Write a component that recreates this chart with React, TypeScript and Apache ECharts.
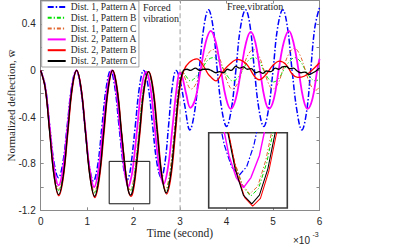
import React, { useEffect, useRef } from 'react';
import * as echarts from 'echarts';

const seriesNames = [
  'Dist. 1, Pattern A',
  'Dist. 1, Pattern B',
  'Dist. 1, Pattern C',
  'Dist. 2, Pattern A',
  'Dist. 2, Pattern B',
  'Dist. 2, Pattern C',
];

// time (x10^-3 s), normalized deflection
const d1A: number[][] = [
  [0, 0], [0.096, -0.13], [0.19, -0.46], [0.287, -0.79], [0.383, -0.92], [0.478, -0.79], [0.574, -0.46], [0.67, -0.13], [0.765, 0],
  [0.857, -0.14], [0.95, -0.47], [1.043, -0.81], [1.135, -0.95], [1.228, -0.81], [1.32, -0.47], [1.413, -0.14], [1.505, 0],
  [1.594, -0.14], [1.683, -0.47], [1.772, -0.8], [1.815, -0.9], [1.86, -0.94], [1.905, -0.9], [1.948, -0.8], [2.037, -0.47], [2.126, -0.14], [2.215, 0],
  [2.31, -0.13], [2.405, -0.46], [2.5, -0.79], [2.595, -0.92], [2.675, -0.79], [2.755, -0.46], [2.835, -0.13], [2.915, 0],
  [2.99, -0.07], [3.1, -0.3], [3.21, -0.51], [3.31, -0.36], [3.41, 0.0], [3.51, 0.37], [3.61, 0.52], [3.71, 0.37], [3.8, 0.0],
  [3.9, -0.34], [4.0, -0.48], [4.1, -0.34], [4.2, 0.0], [4.3, 0.37], [4.41, 0.52], [4.51, 0.37], [4.6, 0.0],
  [4.7, -0.34], [4.8, -0.48], [4.9, -0.34], [5.0, 0.0], [5.1, 0.37], [5.21, 0.52], [5.31, 0.37], [5.41, 0.0],
  [5.52, -0.36], [5.62, -0.51], [5.72, -0.36], [5.81, 0.0], [5.9, 0.37], [6.0, 0.54],
];

const d1B: number[][] = [
  [0, 0], [0.097, -0.15], [0.194, -0.52], [0.291, -0.88], [0.388, -1.03], [0.484, -0.88], [0.58, -0.52], [0.676, -0.15], [0.772, 0],
  [0.868, -0.15], [0.965, -0.53], [1.061, -0.9], [1.158, -1.05], [1.254, -0.9], [1.35, -0.53], [1.447, -0.15], [1.543, 0],
  [1.64, -0.15], [1.736, -0.52], [1.832, -0.88], [1.88, -0.99], [1.928, -1.035], [1.975, -1.0], [2.024, -0.88], [2.12, -0.52], [2.215, -0.15], [2.31, -0.01],
  [2.405, -0.15], [2.5, -0.52], [2.595, -0.88], [2.69, -1.03], [2.785, -0.88], [2.88, -0.52], [2.97, -0.15], [3.05, -0.01],
  [3.13, -0.05], [3.22, -0.09], [3.35, -0.05], [3.48, 0.02], [3.6, 0.09], [3.72, 0.11], [3.83, 0.08], [3.95, 0.0],
  [4.04, -0.06], [4.13, -0.09], [4.25, -0.06], [4.37, 0.02], [4.48, 0.09], [4.6, 0.11], [4.7, 0.08], [4.8, 0.0],
  [4.9, -0.07], [5.0, -0.1], [5.12, -0.07], [5.24, 0.01], [5.36, 0.08], [5.47, 0.11], [5.58, 0.08], [5.7, 0.0],
  [5.8, -0.06], [5.92, -0.09], [6.0, -0.07],
];

const d1C: number[][] = [
  [0, 0], [0.097, -0.15], [0.194, -0.51], [0.291, -0.87], [0.388, -1.02], [0.484, -0.87], [0.58, -0.51], [0.676, -0.15], [0.772, 0],
  [0.868, -0.15], [0.965, -0.52], [1.061, -0.89], [1.157, -1.04], [1.253, -0.89], [1.35, -0.52], [1.446, -0.15], [1.542, 0],
  [1.638, -0.15], [1.734, -0.51], [1.83, -0.87], [1.878, -0.98], [1.922, -1.025], [1.97, -0.99], [2.018, -0.87], [2.114, -0.51], [2.21, -0.15], [2.305, -0.01],
  [2.4, -0.15], [2.495, -0.51], [2.59, -0.87], [2.685, -1.02], [2.78, -0.87], [2.875, -0.51], [2.965, -0.15], [3.045, -0.01],
  [3.13, -0.09], [3.24, -0.16], [3.36, -0.1], [3.48, 0.03], [3.6, 0.14], [3.71, 0.18], [3.82, 0.13], [3.93, 0.01],
  [4.03, -0.11], [4.12, -0.16], [4.24, -0.11], [4.36, 0.03], [4.47, 0.14], [4.58, 0.18], [4.69, 0.13], [4.8, 0.01],
  [4.9, -0.11], [4.99, -0.16], [5.11, -0.11], [5.23, 0.03], [5.35, 0.15], [5.46, 0.19], [5.57, 0.14], [5.69, 0.01],
  [5.8, -0.12], [5.92, -0.17], [6.0, -0.14],
];

const d2A: number[][] = [
  [0, 0], [0.096, -0.14], [0.193, -0.49], [0.289, -0.84], [0.385, -0.985], [0.481, -0.84], [0.577, -0.49], [0.674, -0.14], [0.77, 0],
  [0.865, -0.15], [0.96, -0.5], [1.055, -0.85], [1.15, -1.0], [1.245, -0.85], [1.34, -0.5], [1.435, -0.15], [1.53, 0],
  [1.62, -0.15], [1.71, -0.5], [1.8, -0.85], [1.843, -0.95], [1.886, -0.996], [1.93, -0.95], [1.98, -0.85], [2.075, -0.5], [2.17, -0.15], [2.265, -0.01],
  [2.36, -0.14], [2.455, -0.49], [2.55, -0.83], [2.645, -0.975], [2.74, -0.83], [2.835, -0.49], [2.93, -0.14], [2.995, -0.02],
  [3.05, -0.06], [3.13, -0.2], [3.22, -0.32], [3.33, -0.24], [3.44, 0.0], [3.55, 0.24], [3.66, 0.34], [3.77, 0.24], [3.88, 0.0],
  [3.99, -0.24], [4.09, -0.33], [4.2, -0.24], [4.31, 0.0], [4.42, 0.24], [4.52, 0.33], [4.62, 0.24], [4.72, 0.0],
  [4.82, -0.24], [4.91, -0.33], [5.02, -0.24], [5.12, 0.0], [5.23, 0.24], [5.34, 0.34], [5.44, 0.24], [5.55, 0.0],
  [5.65, -0.24], [5.74, -0.33], [5.85, -0.24], [5.95, 0.0], [6.0, 0.1],
];

const d2B: number[][] = [
  [0, 0], [0.097, -0.15], [0.194, -0.53], [0.292, -0.92], [0.39, -1.075], [0.487, -0.92], [0.584, -0.54], [0.68, -0.16], [0.776, 0],
  [0.874, -0.16], [0.97, -0.55], [1.068, -0.93], [1.165, -1.09], [1.262, -0.93], [1.36, -0.55], [1.456, -0.16], [1.552, 0],
  [1.65, -0.16], [1.746, -0.55], [1.843, -0.92], [1.892, -1.04], [1.94, -1.08], [1.986, -1.045], [2.036, -0.92], [2.133, -0.55], [2.23, -0.16], [2.327, -0.01],
  [2.423, -0.16], [2.52, -0.54], [2.615, -0.91], [2.71, -1.06], [2.805, -0.91], [2.9, -0.54], [2.995, -0.15], [3.08, 0],
  [3.2, 0.07], [3.36, 0.1], [3.5, 0.04], [3.6, -0.03], [3.67, -0.06], [3.77, -0.09], [3.92, -0.01], [4.06, 0.05],
  [4.24, 0.095], [4.35, 0.08], [4.46, 0.04], [4.6, -0.05], [4.7, -0.08], [4.85, -0.035], [4.99, 0.04], [5.14, 0.08],
  [5.28, 0.05], [5.42, -0.035], [5.53, -0.06], [5.67, -0.05], [5.82, -0.005], [6.0, 0.066],
];

const d2C: number[][] = [
  [0, 0], [0.097, -0.15], [0.193, -0.53], [0.29, -0.91], [0.387, -1.065], [0.483, -0.91], [0.58, -0.53], [0.676, -0.15], [0.773, 0],
  [0.87, -0.16], [0.966, -0.54], [1.063, -0.92], [1.16, -1.08], [1.256, -0.92], [1.353, -0.54], [1.45, -0.16], [1.546, 0],
  [1.643, -0.16], [1.74, -0.54], [1.836, -0.91], [1.885, -1.03], [1.935, -1.07], [1.98, -1.03], [2.03, -0.91], [2.127, -0.54], [2.223, -0.16], [2.32, -0.01],
  [2.415, -0.16], [2.51, -0.53], [2.605, -0.9], [2.7, -1.05], [2.795, -0.9], [2.89, -0.53], [2.985, -0.15], [3.07, 0],
  [3.15, 0.01], [3.22, 0.0], [3.33, 0.02], [3.42, 0.0], [3.5, 0.01], [3.6, 0.01], [3.67, 0.0], [3.77, -0.02], [3.85, -0.01],
  [3.93, -0.02], [4.02, 0.01], [4.1, 0.0], [4.2, 0.035], [4.28, 0.02], [4.36, 0.03], [4.45, 0.01], [4.53, 0.015], [4.63, -0.02],
  [4.7, -0.01], [4.78, -0.025], [4.86, -0.005], [4.95, -0.01], [5.05, 0.02], [5.12, 0.01], [5.2, 0.03], [5.28, 0.035], [5.36, 0.015],
  [5.44, 0.02], [5.52, -0.005], [5.6, -0.02], [5.68, -0.015], [5.78, -0.035], [5.86, -0.02], [5.94, 0.0], [6.0, 0.02],
];

const seriesData = [d1A, d1B, d1C, d2A, d2B, d2C];

// annotations
const forcedEnd = 3;
const zoomBox = { x0: 1.474, x1: 2.348, y0: -1.144, y1: -0.78 };
const insetRange = { x0: 1.68, x1: 2.145, y0: -1.089, y1: -0.745 };

const lineStyles = [
  { color: '#0000ff', width: 1.5, type: [6, 2, 1.5, 2] },
  { color: '#00e000', width: 1, type: [4, 2, 1.2, 2] },
  { color: '#e2672e', width: 1, type: [4, 2, 1.2, 2] },
  { color: '#ff00ff', width: 1.8, type: 'solid' },
  { color: '#ff0000', width: 1.3, type: 'solid' },
  { color: '#000000', width: 1.3, type: 'solid' },
];

const AXIS_COLOR = '#8a8a8a';
const TEXT_COLOR = '#262626';
const SERIF = "'Liberation Serif', 'Times New Roman', serif";
const SANS = "'Liberation Sans', Arial, sans-serif";

function buildOption() {
  const main = seriesNames.map((name, i) => ({
    name,
    type: 'line',
    xAxisIndex: 0,
    yAxisIndex: 0,
    data: seriesData[i],
    showSymbol: false,
    symbol: 'none',
    smooth: 0.4,
    lineStyle: lineStyles[i],
    itemStyle: { color: lineStyles[i].color },
    z: 3 + i * 0.01,
  }));
  const inset = seriesNames.map((name, i) => ({
    name,
    type: 'line',
    xAxisIndex: 2,
    yAxisIndex: 2,
    data: seriesData[i],
    showSymbol: false,
    symbol: 'none',
    smooth: false,
    clip: true,
    lineStyle: { ...lineStyles[i], width: Math.max(1, lineStyles[i].width * 0.8) },
    itemStyle: { color: lineStyles[i].color },
    z: 6,
  }));
  const extras = [
    {
      name: 'forced-end',
      type: 'line',
      xAxisIndex: 0,
      yAxisIndex: 0,
      data: [[forcedEnd, -1.2], [forcedEnd, 0.6]],
      showSymbol: false,
      symbol: 'none',
      lineStyle: { color: '#b0b0b0', width: 1.2, type: [5, 3] },
      z: 2,
      silent: true,
    },
    {
      name: 'zoom-box',
      type: 'line',
      xAxisIndex: 0,
      yAxisIndex: 0,
      data: [
        [zoomBox.x0, zoomBox.y1], [zoomBox.x1, zoomBox.y1], [zoomBox.x1, zoomBox.y0],
        [zoomBox.x0, zoomBox.y0], [zoomBox.x0, zoomBox.y1],
      ],
      showSymbol: false,
      symbol: 'none',
      lineStyle: { color: '#111', width: 1 },
      z: 4,
      silent: true,
    },
  ];

  const yFormatter = (v: number) => {
    const k = Math.round(v * 10);
    if (k % 4 !== 0 || k > 4) return '';
    return String(k / 10);
  };

  return {
    animation: false,
    backgroundColor: '#ffffff',
    grid: [
      { left: 40.7, top: 0.5, width: 278.8, height: 209.8, show: false },
      {
        left: 208.7, top: 132.7, width: 78.6, height: 75.3, show: true,
        backgroundColor: '#ffffff', borderColor: '#3a3a3a', borderWidth: 1.6, z: 5,
      },
    ],
    xAxis: [
      {
        type: 'value', gridIndex: 0, min: 0, max: 6, interval: 1, position: 'bottom',
        axisLine: { show: true, onZero: false, lineStyle: { color: AXIS_COLOR, width: 1 } },
        axisTick: { show: true, inside: true, length: 3, lineStyle: { color: AXIS_COLOR } },
        axisLabel: { color: TEXT_COLOR, fontFamily: SANS, fontSize: 10, margin: 6 },
        splitLine: { show: false },
      },
      {
        type: 'value', gridIndex: 0, min: 0, max: 6, interval: 1, position: 'top',
        axisLine: { show: true, onZero: false, lineStyle: { color: AXIS_COLOR, width: 1 } },
        axisTick: { show: true, inside: true, length: 3, lineStyle: { color: AXIS_COLOR } },
        axisLabel: { show: false },
        splitLine: { show: false },
      },
      {
        type: 'value', gridIndex: 1, min: insetRange.x0, max: insetRange.x1, show: false,
      },
    ],
    yAxis: [
      {
        type: 'value', gridIndex: 0, min: -1.2, max: 0.6, interval: 0.2, position: 'left',
        axisLine: { show: true, onZero: false, lineStyle: { color: AXIS_COLOR, width: 1 } },
        axisTick: { show: true, inside: true, length: 3, lineStyle: { color: AXIS_COLOR } },
        axisLabel: { color: TEXT_COLOR, fontFamily: SANS, fontSize: 10, margin: 5, formatter: yFormatter },
        splitLine: { show: false },
      },
      {
        type: 'value', gridIndex: 0, min: -1.2, max: 0.6, interval: 0.2, position: 'right',
        axisLine: { show: true, onZero: false, lineStyle: { color: AXIS_COLOR, width: 1 } },
        axisTick: { show: true, inside: true, length: 3, lineStyle: { color: AXIS_COLOR } },
        axisLabel: { show: false },
        splitLine: { show: false },
      },
      {
        type: 'value', gridIndex: 1, min: insetRange.y0, max: insetRange.y1, show: false,
      },
    ],
    legend: {
      data: seriesNames,
      orient: 'vertical',
      left: 41.7,
      top: 1,
      itemWidth: 18,
      itemHeight: 10,
      itemGap: 0.8,
      padding: [1, 2, 1, 5],
      backgroundColor: '#ffffff',
      borderColor: '#8a8a8a',
      borderWidth: 0.8,
      itemStyle: { opacity: 0, color: 'transparent', borderWidth: 0 },
      textStyle: { fontFamily: SERIF, fontSize: 9.5, color: TEXT_COLOR, lineHeight: 10 },
      selectedMode: false,
      z: 10,
    },
    graphic: [
      {
        type: 'text', x: 11, y: 105.5, rotation: Math.PI / 2, z: 10,
        style: {
          text: 'Normalized deflection, w\u0305', fill: TEXT_COLOR, font: `11px ${SERIF}`,
          align: 'center', verticalAlign: 'middle',
        },
      },
      {
        type: 'text', x: 180, y: 233, z: 10,
        style: { text: 'Time (second)', fill: TEXT_COLOR, font: `11.5px ${SERIF}`, align: 'center', verticalAlign: 'middle' },
      },
      {
        type: 'text', x: 293, y: 240, z: 10,
        style: { text: '\u00d710', fill: TEXT_COLOR, font: `10px ${SANS}`, align: 'left', verticalAlign: 'middle' },
      },
      {
        type: 'text', x: 312.5, y: 234, z: 10,
        style: { text: '-3', fill: TEXT_COLOR, font: `7px ${SANS}`, align: 'left', verticalAlign: 'middle' },
      },
      {
        type: 'text', x: 143, y: 7.5, z: 10,
        style: { text: 'Forced', fill: TEXT_COLOR, font: `10px ${SERIF}`, align: 'left', verticalAlign: 'middle' },
      },
      {
        type: 'text', x: 143, y: 18.5, z: 10,
        style: { text: 'vibration', fill: TEXT_COLOR, font: `10px ${SERIF}`, align: 'left', verticalAlign: 'middle' },
      },
      {
        type: 'text', x: 227, y: 6.5, z: 10,
        style: { text: 'Free vibration', fill: TEXT_COLOR, font: `10px ${SERIF}`, align: 'left', verticalAlign: 'middle' },
      },
    ],
    series: [...extras, ...main, ...inset],
  };
}

export default function App() {
  const ref = useRef<HTMLDivElement>(null);
  useEffect(() => {
    if (!ref.current) return;
    const chart = echarts.init(ref.current, null, { renderer: 'svg' });
    chart.setOption(buildOption() as any);
    return () => chart.dispose();
  }, []);
  return (
    <div
      ref={ref}
      style={{ position: 'absolute', left: 0, top: 0, width: 412, height: 245 }}
    />
  );
}
